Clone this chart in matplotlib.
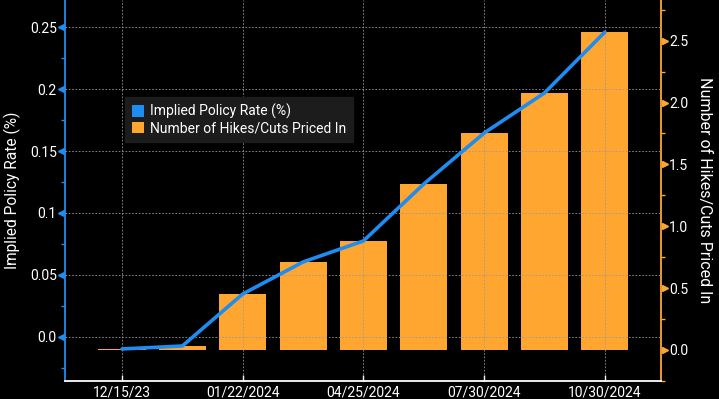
import numpy as np
import matplotlib
matplotlib.use("Agg")
import matplotlib.pyplot as plt
from matplotlib.patches import Patch

plt.rcParams['font.family'] = ['Roboto', 'DejaVu Sans']

# values
implied_rate = [-0.0099, -0.0075, 0.0345, 0.0604, 0.0774, 0.1234, 0.1646, 0.1970, 0.2462]
hikes_priced = [0.008, 0.036, 0.45, 0.71, 0.88, 1.34, 1.75, 2.08, 2.57]
tick_idx = [0, 2, 4, 6, 8]
tick_labels = ['12/15/23', '01/22/2024', '04/25/2024', '07/30/2024', '10/30/2024']

blue = '#1e8cf0'
orange = '#ffa630'
x = np.arange(len(implied_rate))

fig = plt.figure(figsize=(7.19, 3.99), dpi=100, facecolor='black')
ax = fig.add_axes([65/719, 18/399, 596/719, 381/399])
ax.set_facecolor('black')
ax2 = ax.twinx()

# bars on the right axis, line on the left axis
ax2.bar(x, hikes_priced, width=0.78, color=orange, zorder=2)
ax.plot(x, implied_rate, color=blue, lw=2.6, solid_capstyle='round', zorder=5)
ax.set_zorder(ax2.get_zorder() + 1)
ax.patch.set_visible(False)

ax.set_xlim(-0.944, 8.93)
ax.set_ylim(-0.0358, 0.2721)
ax2.set_ylim(-0.2506, 2.829)

lt = [0.0, 0.05, 0.1, 0.15, 0.2, 0.25]
ax.set_yticks(lt)
ax.set_yticklabels(['0.0', '0.05', '0.1', '0.15', '0.2', '0.25'])
ax.set_yticks(np.arange(-0.025, 0.27, 0.05), minor=True)
rt = [0.0, 0.5, 1.0, 1.5, 2.0, 2.5]
ax2.set_yticks(rt)
ax2.set_yticklabels(['0.0', '0.5', '1.0', '1.5', '2.0', '2.5'])
ax2.set_yticks(np.arange(-0.25, 2.8, 0.5), minor=True)
ax.set_xticks(tick_idx)
ax.set_xticklabels(tick_labels)

for a in (ax, ax2):
    a.spines['top'].set_visible(False)
ax.spines['right'].set_visible(False)
ax2.spines['left'].set_visible(False)
ax2.spines['bottom'].set_visible(False)
ax.spines['left'].set_color(blue)
ax.spines['left'].set_linewidth(1.3)
ax2.spines['right'].set_color(orange)
ax2.spines['right'].set_linewidth(1.3)
ax.spines['bottom'].set_color('white')
ax.spines['bottom'].set_linewidth(1.3)

ax.tick_params(axis='y', which='major', length=0, pad=6, colors='white', labelsize=10)
ax.tick_params(axis='y', which='minor', length=3, width=1, color=blue)
ax2.tick_params(axis='y', which='major', length=0, pad=6, colors='white', labelsize=10)
ax2.tick_params(axis='y', which='minor', length=3, width=1, color=orange)
ax.tick_params(axis='x', which='major', direction='in', length=4, width=1, color='white',
               colors='white', labelsize=10, pad=3)

# triangle tick markers
ax.plot(np.full(len(lt), -0.006), lt, marker='<', ls='none', ms=5, color=blue,
        transform=ax.get_yaxis_transform(), clip_on=False, zorder=6)
ax2.plot(np.full(len(rt), 1.006), rt, marker='>', ls='none', ms=5, color=orange,
         transform=ax2.get_yaxis_transform(), clip_on=False, zorder=6)

ax.grid(True, which='major', color='#9a9a9a', ls=(0, (2, 2)), lw=0.6)
ax.set_axisbelow(False)

ax.set_ylabel('Implied Policy Rate (%)', color='white', fontsize=11.2, labelpad=6)
ax2.set_ylabel('Number of Hikes/Cuts Priced In', color='white', fontsize=11.5,
               rotation=270, labelpad=17)

handles = [Patch(facecolor=blue, label='Implied Policy Rate (%)'),
           Patch(facecolor=orange, label='Number of Hikes/Cuts Priced In')]
leg = ax.legend(handles=handles, loc='upper left', bbox_to_anchor=(0.1, 0.745),
                borderaxespad=0, frameon=True, facecolor='#1c1c1c', edgecolor='#1c1c1c',
                framealpha=1, fontsize=10, labelcolor='white', handlelength=0.9,
                handleheight=0.9, handletextpad=0.4, borderpad=0.5, labelspacing=0.15,
                fancybox=False)
leg.set_zorder(10)

fig.savefig('out.png', dpi=100, facecolor='black')
